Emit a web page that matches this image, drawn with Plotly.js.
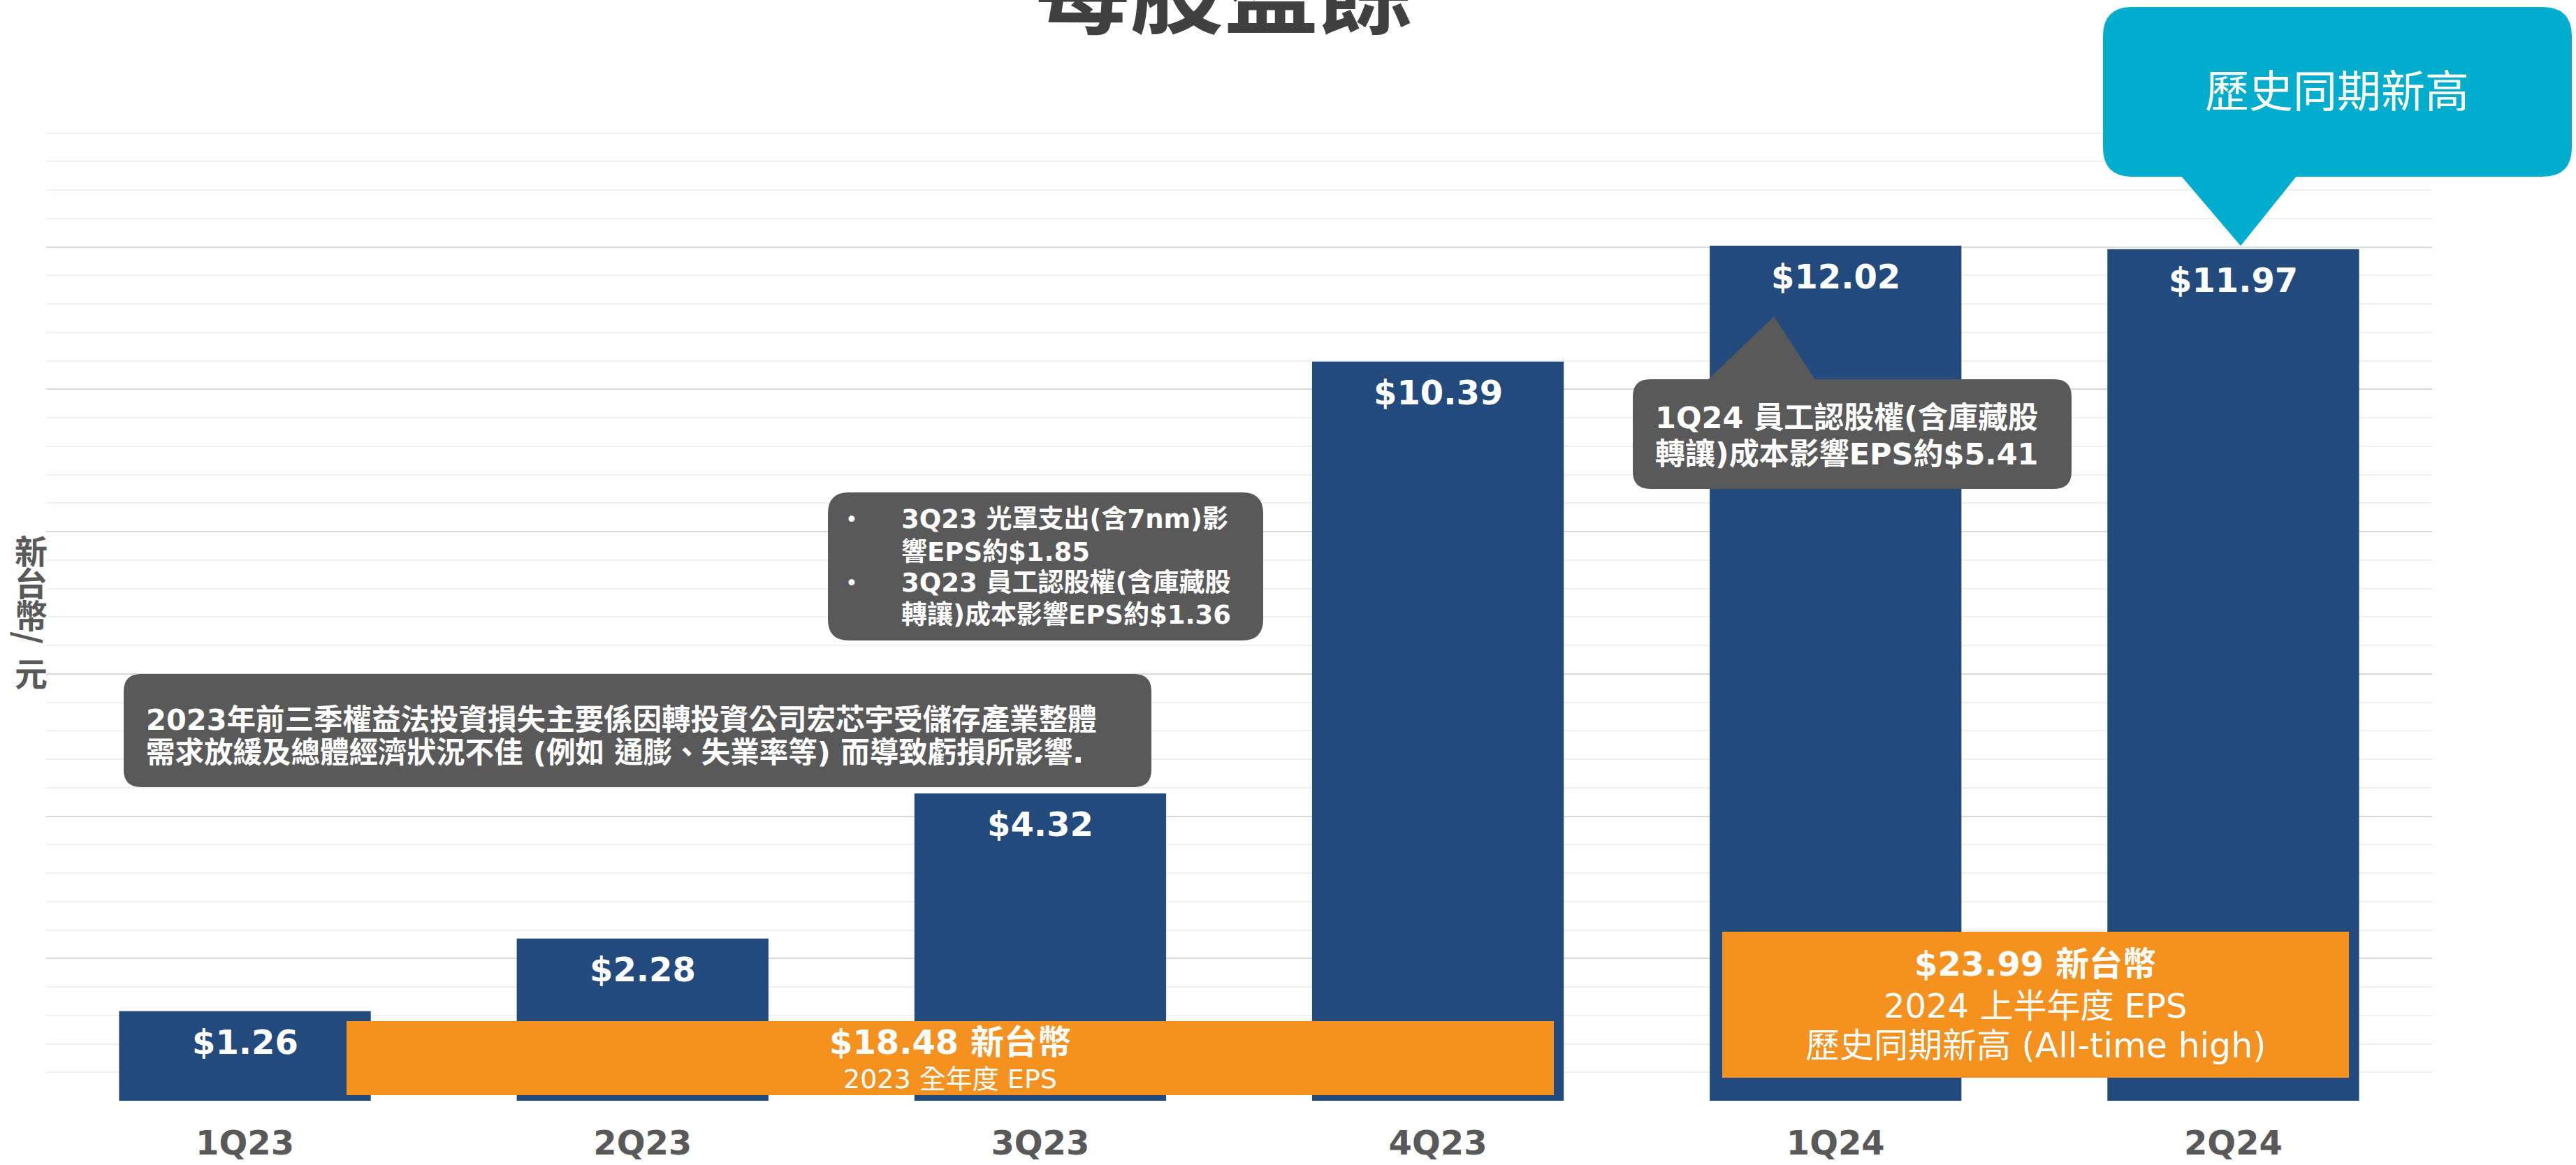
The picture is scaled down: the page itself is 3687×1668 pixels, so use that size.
<!DOCTYPE html>
<html>
<head>
<meta charset="utf-8">
<script src="https://cdn.plot.ly/plotly-3.0.1.min.js"></script>
<style>html,body{margin:0;padding:0;background:#fff;}#chart{width:3687px;height:1668px;}</style>
</head>
<body>
<div id="chart"></div>
<script>
// ---- data ----
const categories = ['1Q23', '2Q23', '3Q23', '4Q23', '1Q24', '2Q24'];
const eps = [1.26, 2.28, 4.32, 10.39, 12.02, 11.97];
const fy2023Total = 18.48;
const h1y2024Total = 23.99;
const chartTitle = '每股盈餘';
const yTitleChars = ['新', '台', '幣', '/', '元'];
const noteLoss = ['2023年前三季權益法投資損失主要係因轉投資公司宏芯宇受儲存產業整體',
                  '需求放緩及總體經濟狀況不佳 (例如 通膨、失業率等) 而導致虧損所影響.'];
const note3Q23 = [['•', '3Q23 光罩支出(含7nm)影'], ['', '響EPS約$1.85'],
                  ['•', '3Q23 員工認股權(含庫藏股'], ['', '轉讓)成本影響EPS約$1.36']];
const note1Q24 = ['1Q24 員工認股權(含庫藏股', '轉讓)成本影響EPS約$5.41'];
const calloutHigh = '歷史同期新高';

// ---- page geometry helpers (layout decorations only) ----
const W = 3687, H = 1668;
const M = {l: 66, r: 206, t: 150, b: 92};
const PW = W - M.l - M.r, PH = H - M.t - M.b;
const px = X => (X - M.l) / PW;
const py = Y => (H - M.b - Y) / PH;
const FONT = 'DejaVu Sans, Noto Sans CJK TC, sans-serif';
const GRAY = '#595959', BLUE = '#224A7D', ORANGE = '#F5921F', CYAN = '#00ADCC';

function roundRect(x0, y0, x1, y1, r) {
  const P = (x, y) => px(x).toFixed(6) + ',' + py(y).toFixed(6);
  return 'M' + P(x0 + r, y0) + ' L' + P(x1 - r, y0) + ' Q' + P(x1, y0) + ' ' + P(x1, y0 + r) +
    ' L' + P(x1, y1 - r) + ' Q' + P(x1, y1) + ' ' + P(x1 - r, y1) +
    ' L' + P(x0 + r, y1) + ' Q' + P(x0, y1) + ' ' + P(x0, y1 - r) +
    ' L' + P(x0, y0 + r) + ' Q' + P(x0, y0) + ' ' + P(x0 + r, y0) + ' Z';
}
function tri(a, b, c) {
  const P = p => px(p[0]).toFixed(6) + ',' + py(p[1]).toFixed(6);
  return 'M' + P(a) + ' L' + P(b) + ' L' + P(c) + ' Z';
}
function pathShape(path, color) {
  return {type: 'path', xref: 'paper', yref: 'paper', path: path, fillcolor: color,
          line: {width: 0}, layer: 'above'};
}
function rectShape(x0, y0, x1, y1, color) {
  return {type: 'rect', xref: 'paper', yref: 'paper', x0: px(x0), x1: px(x1), y0: py(y1), y1: py(y0),
          fillcolor: color, line: {width: 0}, layer: 'above'};
}
function txt(text, X, Y, size, opts) {
  opts = opts || {};
  return {text: text, xref: 'paper', yref: 'paper', x: px(X), y: py(Y), showarrow: false,
          xanchor: opts.xanchor || 'center', yanchor: 'middle', textangle: opts.angle || 0,
          font: {family: opts.family || FONT, size: size, color: opts.color || '#ffffff',
                 weight: opts.weight || 'bold'}};
}

const shapes = [
  pathShape(roundRect(177, 965, 1648, 1127, 25), GRAY),
  pathShape(roundRect(1185, 705, 1808, 917, 30), GRAY),
  pathShape(roundRect(2337, 543, 2965, 700, 25), GRAY),
  pathShape(tri([2443, 545], [2539, 453], [2599, 545]), GRAY),
  pathShape(roundRect(3010, 10, 3681, 253, 42), CYAN),
  pathShape(tri([3121, 251], [3207, 352], [3288, 251]), CYAN),
  rectShape(496, 1462, 2224, 1568, ORANGE),
  rectShape(2465, 1334, 3362, 1543, ORANGE)
];

const annotations = [];
// bar value labels, anchored to each bar's value
categories.forEach((c, i) => {
  annotations.push({text: '$' + eps[i].toFixed(2), x: c, y: eps[i], xref: 'x', yref: 'y',
    showarrow: false, yanchor: 'middle', yshift: -44,
    font: {family: FONT, size: 48, color: '#ffffff', weight: 'bold'}});
});
// title (clipped at top of page as in the reference)
annotations.push(txt(chartTitle, 1752, -21, 135, {color: '#404040', family: 'Noto Sans CJK TC, sans-serif'}));
// y-axis title, stacked characters
const yTitleY = [786, 832, 878, 913, 962];
yTitleChars.forEach((ch, i) => {
  annotations.push(txt(ch, 44, yTitleY[i], 47, {color: GRAY, weight: 'bold',
    family: 'Noto Sans CJK TC, sans-serif', angle: ch === '/' ? 90 : 0}));
});
// gray note boxes
annotations.push(txt(noteLoss[0], 207, 1030, 41.5, {xanchor: 'left'}));
annotations.push(txt(noteLoss[1], 207, 1077, 41.5, {xanchor: 'left'}));
const note3Y = [743, 790, 835, 880];
note3Q23.forEach((ln, i) => {
  if (ln[0]) annotations.push(txt(ln[0], 1219, note3Y[i], 30, {weight: 'normal'}));
  annotations.push(txt(ln[1], 1288, note3Y[i], 37, {xanchor: 'left'}));
});
annotations.push(txt(note1Q24[0], 2367, 598, 43, {xanchor: 'left'}));
annotations.push(txt(note1Q24[1], 2367, 650, 43, {xanchor: 'left'}));
// cyan callout
annotations.push(txt(calloutHigh, 3345, 132, 63, {weight: 'normal'}));
// orange totals
annotations.push(txt('$' + fy2023Total.toFixed(2) + ' 新台幣', 1360, 1492, 48));
annotations.push(txt('2023 全年度 EPS', 1360, 1545, 38, {weight: 'normal'}));
annotations.push(txt('$' + h1y2024Total.toFixed(2) + ' 新台幣', 2913, 1380, 48));
annotations.push(txt('2024 上半年度 EPS', 2913, 1440, 48, {weight: 'normal'}));
annotations.push(txt('歷史同期新高 (All-time high)', 2913, 1497, 49, {weight: 'normal'}));

const trace = {
  type: 'bar', x: categories, y: eps,
  marker: {color: BLUE, line: {width: 0}},
  hoverinfo: 'none', textposition: 'none'
};

const layout = {
  width: W, height: H,
  margin: {l: M.l, r: M.r, t: M.t, b: M.b, pad: 0},
  paper_bgcolor: '#ffffff', plot_bgcolor: 'rgba(0,0,0,0)',
  showlegend: false, bargap: 0.367,
  font: {family: FONT},
  xaxis: {type: 'category', range: [-0.5, 5.5], showgrid: false, zeroline: false, showline: false,
          ticks: '', ticklabelstandoff: 28,
          tickfont: {family: FONT, size: 48, color: GRAY, weight: 'bold'}},
  yaxis: {range: [0, 14], tick0: 0, dtick: 2, showgrid: true, gridcolor: '#D9D9D9', gridwidth: 2,
          zeroline: false, showline: false, showticklabels: false, ticks: '',
          minor: {tick0: 0, dtick: 0.4, showgrid: true, gridcolor: '#F0F0F0', gridwidth: 2, ticks: ''}},
  shapes: shapes, annotations: annotations
};

Plotly.newPlot('chart', [trace], layout, {staticPlot: true, displayModeBar: false});
</script>
</body>
</html>
